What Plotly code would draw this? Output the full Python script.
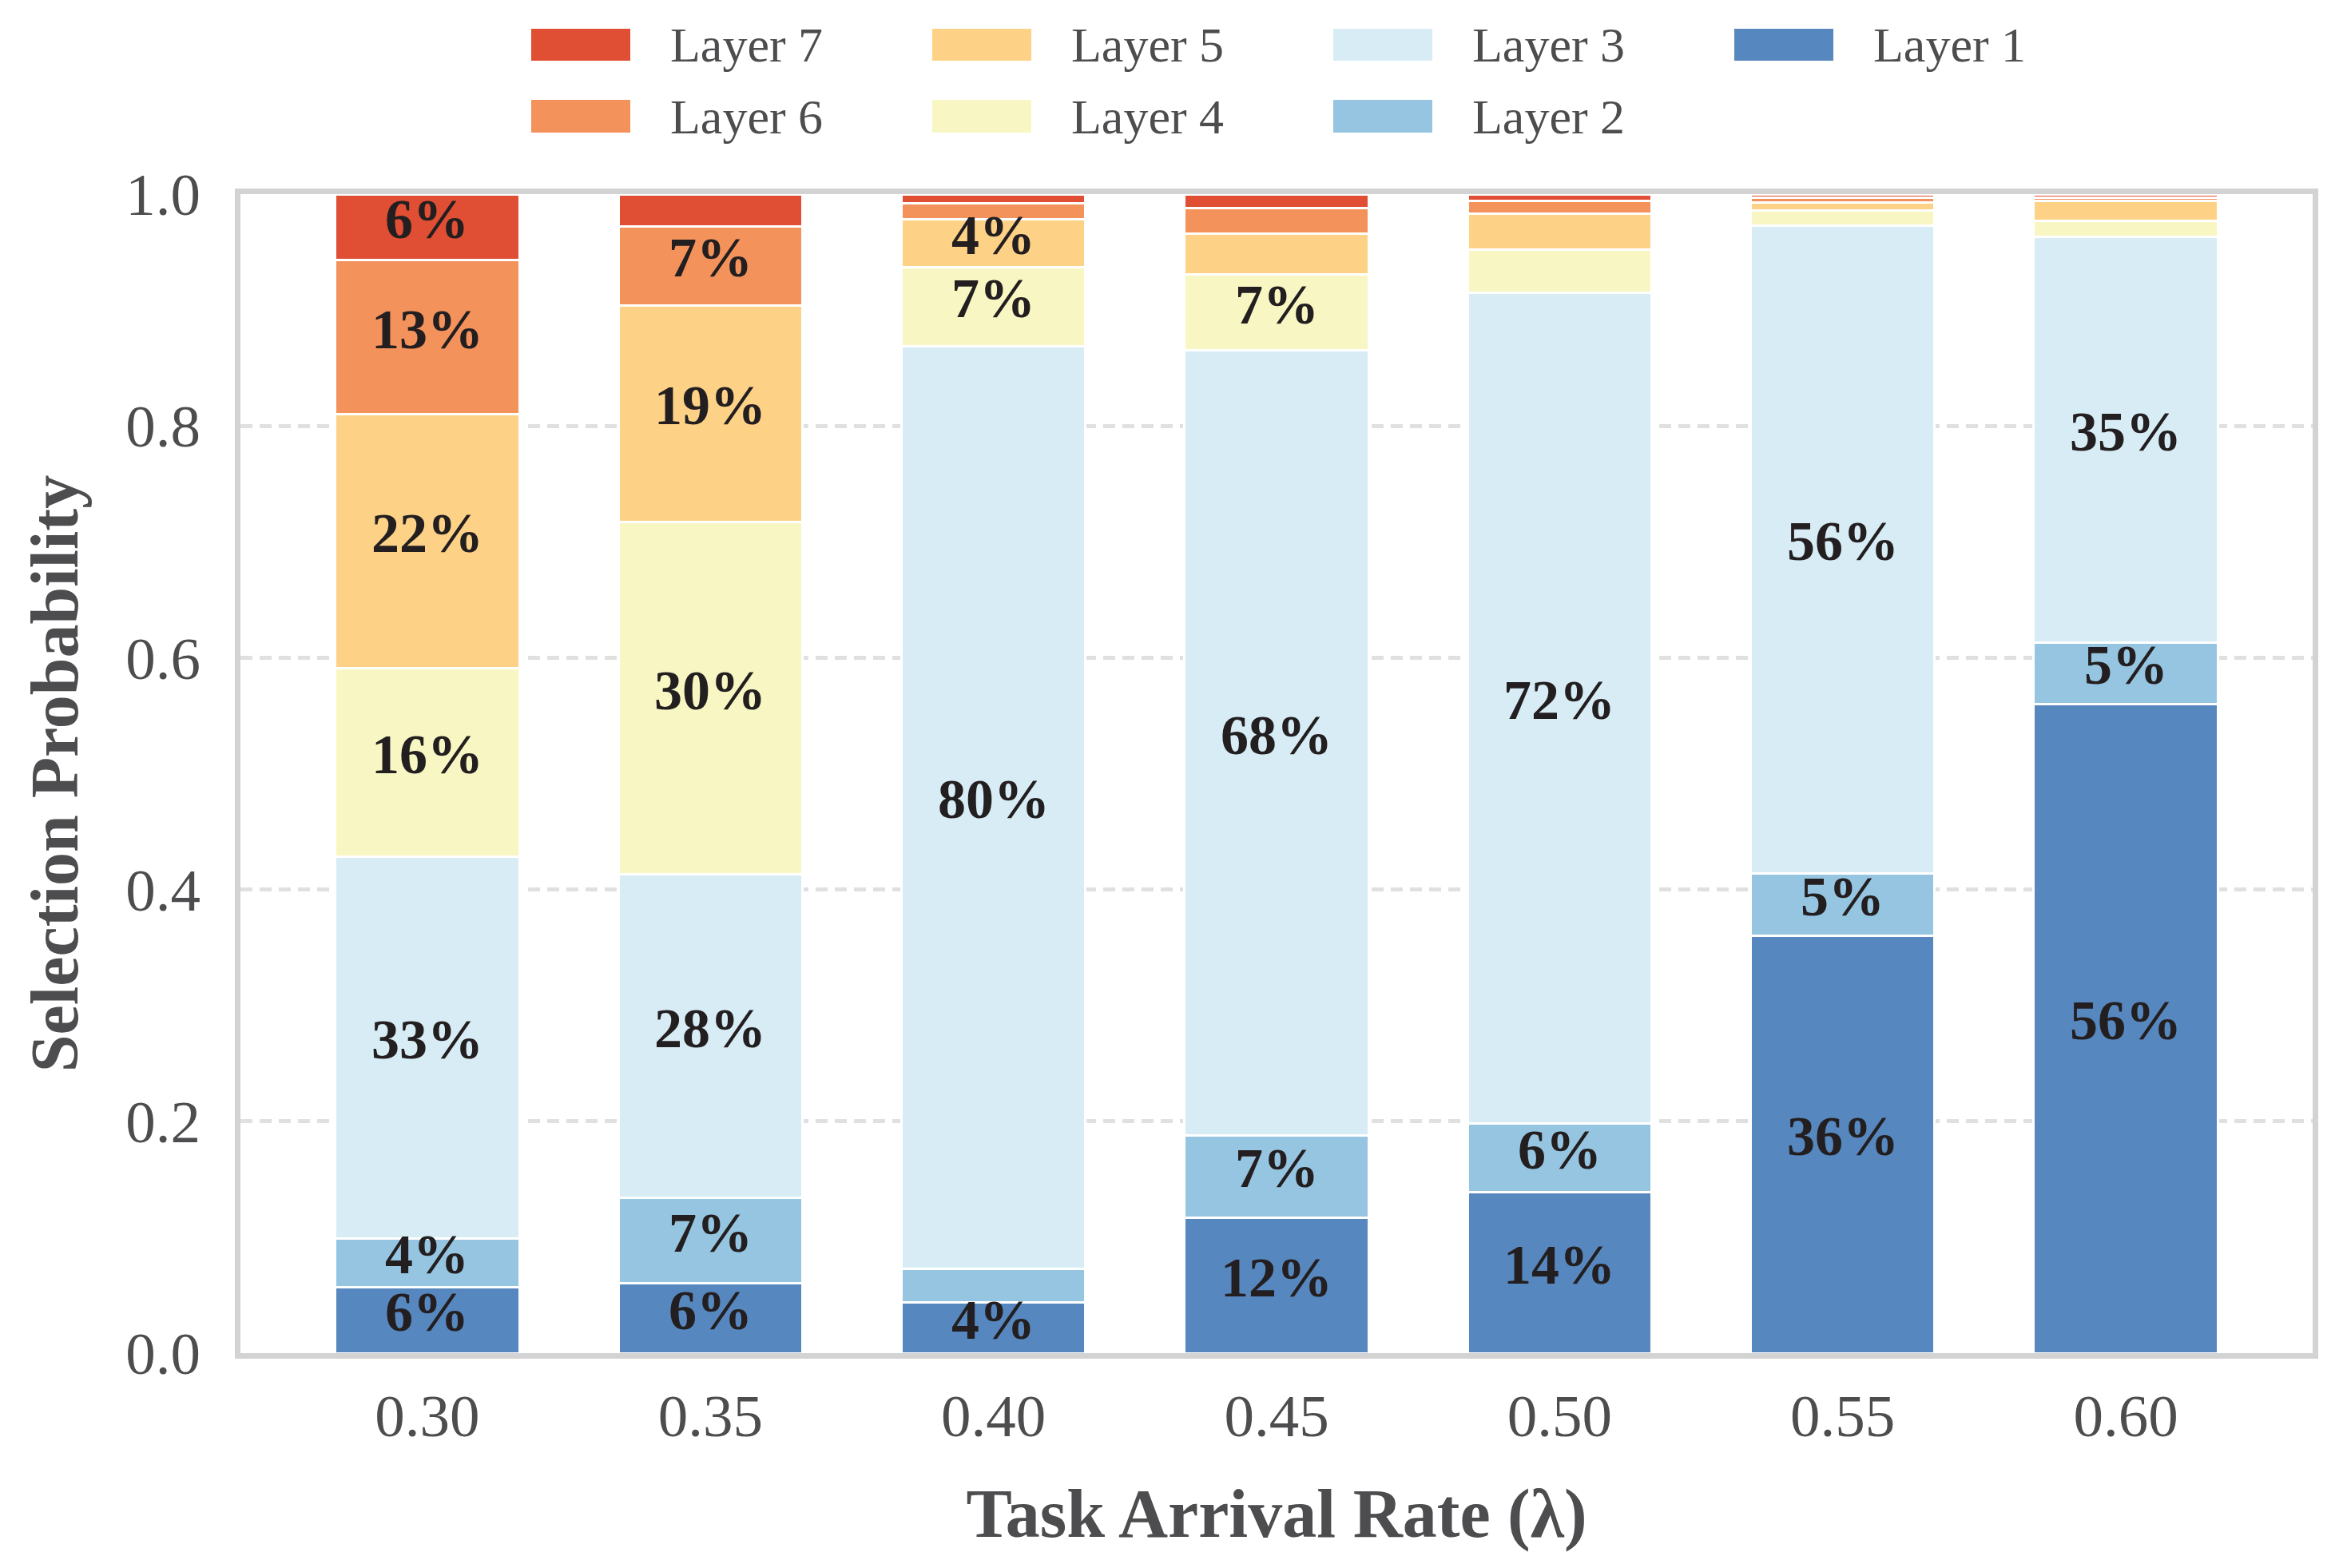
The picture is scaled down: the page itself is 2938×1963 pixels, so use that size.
import plotly.graph_objects as go

# ---------------- data ----------------
categories = ["0.30", "0.35", "0.40", "0.45", "0.50", "0.55", "0.60"]
layer_names = ["Layer 1", "Layer 2", "Layer 3", "Layer 4", "Layer 5", "Layer 6", "Layer 7"]

layer1 = [0.057, 0.060, 0.044, 0.117, 0.139, 0.360, 0.560]
layer2 = [0.042, 0.074, 0.029, 0.071, 0.059, 0.054, 0.053]
layer3 = [0.329, 0.279, 0.796, 0.677, 0.717, 0.559, 0.350]
layer4 = [0.163, 0.304, 0.068, 0.066, 0.037, 0.013, 0.014]
layer5 = [0.219, 0.187, 0.041, 0.035, 0.031, 0.007, 0.017]
layer6 = [0.133, 0.068, 0.014, 0.022, 0.011, 0.004, 0.003]
layer7 = [0.057, 0.028, 0.008, 0.012, 0.006, 0.003, 0.003]

series = [layer1, layer2, layer3, layer4, layer5, layer6, layer7]

y_tickvals = [0.0, 0.2, 0.4, 0.6, 0.8, 1.0]
y_ticktext = ["0.0", "0.2", "0.4", "0.6", "0.8", "1.0"]

label_threshold = 0.04

# ---------------- style ----------------
colors = ["#5787BF", "#96C5E1", "#D7ECF5", "#F8F7C3", "#FDD287", "#F4925C", "#E04E34"]
FONT = "Liberation Serif, Times New Roman, serif"
GREY = "#4D4D4F"
OFF = 8  # page body margin
W, H = 2938 - OFF, 1963 - OFF
L, R, T, B = 301 - OFF, 43, 243 - OFF, 269

fig = go.Figure()
annotations = []
cumulative = [0.0] * len(categories)
for name, vals, col in zip(layer_names, series, colors):
    fig.add_trace(go.Bar(
        x=categories, y=vals, name=name,
        marker=dict(color=col, line=dict(color="white", width=3)),
        width=0.65,
        showlegend=False,
        hovertemplate="%{x}: %{y:.3f}<extra>" + name + "</extra>",
    ))
    # percentage labels centred on each segment (category index on the category axis)
    for j, v in enumerate(vals):
        if v >= label_threshold:
            annotations.append(dict(
                x=j, y=cumulative[j] + v / 2, xref="x", yref="y",
                text=f"{v*100:.0f}%", showarrow=False, yshift=10,
                font=dict(family=FONT, size=70, color="#231F20", weight="bold"),
            ))
        cumulative[j] += v

# ---------------- manual legend (column-major, 2 rows x 4 cols) ----------------
legend_order = ["Layer 7", "Layer 6", "Layer 5", "Layer 4", "Layer 3", "Layer 2", "Layer 1"]
pw, ph = W - L - R, H - T - B
def px2paper_x(px):
    return (px - OFF - L) / pw
def px2paper_y(py):
    return (H - B - (py - OFF)) / ph

col_x = [665, 1167, 1669, 2171]
row_y = [(36, 76), (125, 166)]
shapes = []
for i, name in enumerate(legend_order):
    c, r = divmod(i, 2)
    col = colors[layer_names.index(name)]
    x0 = col_x[c]
    y0, y1 = row_y[r]
    shapes.append(dict(type="rect", xref="paper", yref="paper",
                       x0=px2paper_x(x0), x1=px2paper_x(x0 + 124),
                       y0=px2paper_y(y1), y1=px2paper_y(y0),
                       fillcolor=col, line=dict(width=0), layer="above"))
    annotations.append(dict(xref="paper", yref="paper",
                            x=px2paper_x(x0 + 172), y=px2paper_y((y0 + y1) / 2),
                            xanchor="left", yanchor="middle", showarrow=False,
                            text=name, font=dict(family=FONT, size=62, color=GREY)))

fig.update_layout(
    width=W, height=H,
    margin=dict(l=L, r=R, t=T, b=B, pad=0),
    barmode="stack",
    plot_bgcolor="white", paper_bgcolor="white",
    font=dict(family=FONT, color=GREY),
    shapes=shapes, annotations=annotations,
    showlegend=False,
)
fig.update_xaxes(
    type="category", range=[-0.66, 6.66],
    showline=True, mirror=True, linecolor="#D3D3D3", linewidth=7,
    showgrid=False, ticks="", ticklabelstandoff=7,
    tickfont=dict(family=FONT, size=75, color=GREY),
    title=dict(text="Task Arrival Rate (λ)", standoff=53,
               font=dict(family=FONT, size=86, color=GREY, weight="bold")),
)
fig.update_yaxes(
    range=[0, 1], tickvals=y_tickvals, ticktext=y_ticktext,
    showline=True, mirror=True, linecolor="#D3D3D3", linewidth=7,
    showgrid=True, gridcolor="#E0E0E0", gridwidth=5, griddash="15px,9px",
    zeroline=False, ticks="", ticklabelstandoff=28,
    tickfont=dict(family=FONT, size=75, color=GREY),
    title=dict(text="Selection Probability", standoff=34,
               font=dict(family=FONT, size=84, color=GREY, weight="bold")),
)

fig.write_html("out.html")
